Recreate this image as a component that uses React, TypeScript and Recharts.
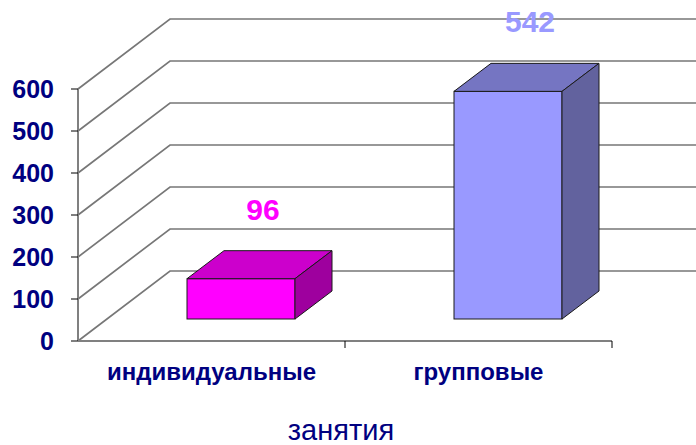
import { BarChart, Bar, XAxis, YAxis, CartesianGrid, LabelList, Cell } from 'recharts';

const categories = ['индивидуальные', 'групповые'];
const values = [96, 542];
const yTicks = [0, 100, 200, 300, 400, 500, 600];

const data = categories.map((name, i) => ({ name, value: values[i] }));

// 3D look: wall depth and bar depth (px)
const WALL_DX = 92;
const WALL_DY = 70;
const BAR_OFF_DX = 29;
const BAR_OFF_DY = 22;
const BAR_DX = 37;
const BAR_DY = 28;

const faces = [
  { front: '#FF00FF', top: '#CC00CC', side: '#9E009E', label: '#FF00FF' },
  { front: '#9999FF', top: '#7575C2', side: '#62629E', label: '#9999FF' },
];

const NAVY = '#000080';
const FONT = '"Liberation Sans", Arial, sans-serif';

function GridLine(props: any) {
  const { x1, y1 } = props;
  const pts = `${x1},${y1} ${x1 + WALL_DX},${y1 - WALL_DY} 696,${y1 - WALL_DY}`;
  return <polyline key={props.key} points={pts} fill="none" stroke="#777" strokeWidth={1.7} />;
}

function Bar3D(props: any) {
  const { x, y, width, height, index } = props;
  const c = faces[index % faces.length];
  const fx = x + BAR_OFF_DX;
  const fy = y - BAR_OFF_DY;
  const stroke = '#1a1a1a';
  return (
    <g>
      <rect x={fx} y={fy} width={width} height={height} fill={c.front} stroke={stroke} strokeWidth={1} />
      <polygon
        points={`${fx},${fy} ${fx + BAR_DX},${fy - BAR_DY} ${fx + width + BAR_DX},${fy - BAR_DY} ${fx + width},${fy}`}
        fill={c.top}
        stroke={stroke}
        strokeWidth={1}
      />
      <polygon
        points={`${fx + width},${fy} ${fx + width + BAR_DX},${fy - BAR_DY} ${fx + width + BAR_DX},${fy + height - BAR_DY} ${fx + width},${fy + height}`}
        fill={c.side}
        stroke={stroke}
        strokeWidth={1}
      />
    </g>
  );
}

function ValueLabel(props: any) {
  const { x, y, width, value, index } = props;
  return (
    <text
      x={x + width / 2 + 51}
      y={y - 81}
      textAnchor="middle"
      fill={faces[index].label}
      fontSize={30}
      fontWeight="bold"
      fontFamily={FONT}
    >
      {value}
    </text>
  );
}

function CategoryTick(props: any) {
  const { x, y, payload } = props;
  const off = payload.offset ?? 0;
  return (
    <g>
      <line x1={x + off} y1={y} x2={x + off} y2={y + 7} stroke="#000" strokeWidth={1} />
      <text x={x} y={y + 39} textAnchor="middle" fill={NAVY} fontSize={24} fontWeight="bold" fontFamily={FONT}>
        {payload.value}
      </text>
    </g>
  );
}

export default function App() {
  return (
    <div style={{ position: 'absolute', left: 0, top: 0, width: 696, height: 445, background: '#fff' }}>
      <BarChart width={696} height={445} data={data} margin={{ top: 89, right: 84, left: 18, bottom: 74 }}>
        <CartesianGrid vertical={false} horizontal={(p: any) => <GridLine {...p} />} />
        <XAxis
          dataKey="name"
          height={30}
          tickLine={false}
          tickSize={0}
          tickMargin={0}
          axisLine={{ stroke: '#808080', strokeWidth: 2 }}
          tick={<CategoryTick />}
          interval={0}
        />
        <YAxis
          width={60}
          domain={[0, 600]}
          ticks={yTicks}
          tickSize={7}
          tickMargin={17}
          axisLine={{ stroke: '#808080', strokeWidth: 2 }}
          tickLine={{ stroke: '#000', strokeWidth: 1 }}
          tick={{ fill: NAVY, fontSize: 25, fontWeight: 'bold', fontFamily: FONT }}
        />
        <Bar dataKey="value" barSize={108} shape={<Bar3D />} isAnimationActive={false}>
          {data.map((d, i) => (
            <Cell key={d.name} fill={faces[i].front} />
          ))}
          <LabelList dataKey="value" content={<ValueLabel />} />
        </Bar>
        <text x={341} y={440} textAnchor="middle" fill={NAVY} fontSize={29} fontFamily={FONT}>
          занятия
        </text>
      </BarChart>
    </div>
  );
}
